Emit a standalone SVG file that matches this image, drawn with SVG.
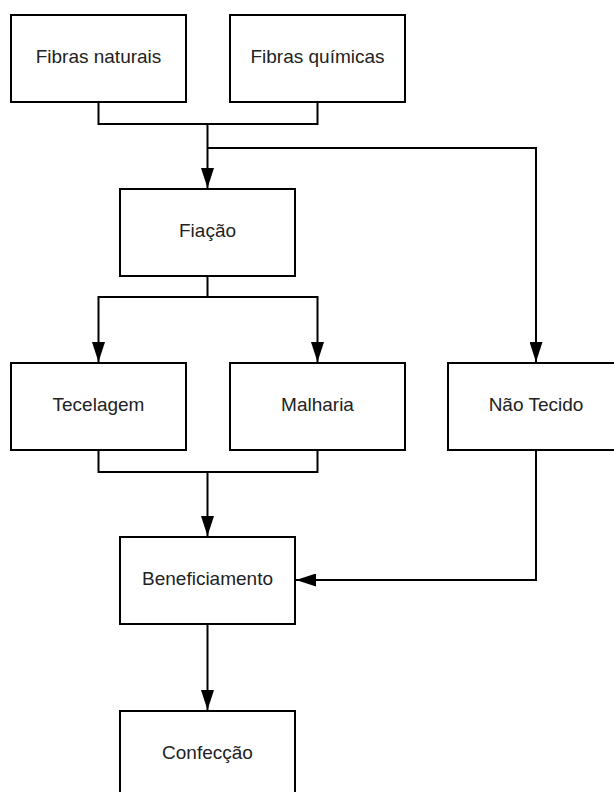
<svg xmlns="http://www.w3.org/2000/svg" width="614" height="792" viewBox="0 0 614 792">
  <style>
    .box { fill: #ffffff; stroke: #000000; stroke-width: 2; }
    .lbl { font-family: "Liberation Sans", Arial, sans-serif; font-size: 19px; fill: #222222; text-anchor: middle; }
    .con { fill: none; stroke: #000000; stroke-width: 2; }
  </style>
  <defs>
    <marker id="arr" viewBox="0 0 20 13" markerWidth="20" markerHeight="13" refX="20" refY="6.5" orient="auto" markerUnits="userSpaceOnUse">
      <path d="M0,0 L20,6.5 L0,13 z" fill="#000000"/>
    </marker>
  </defs>
  <rect x="0" y="0" width="614" height="792" fill="#ffffff"/>

  <g id="connectors">
    <path class="con" d="M98.5,102 V124 H317.5 V102"/>
    <path class="con" d="M207.5,124 V188" marker-end="url(#arr)"/>
    <path class="con" d="M207.5,148 H536 V362" marker-end="url(#arr)"/>
    <path class="con" d="M207.5,276 V297 H98.5 V362" marker-end="url(#arr)"/>
    <path class="con" d="M207.5,297 H317.5 V362" marker-end="url(#arr)"/>
    <path class="con" d="M98.5,450 V472 H317.5 V450"/>
    <path class="con" d="M207.5,472 V536" marker-end="url(#arr)"/>
    <path class="con" d="M536,450 V580 H296" marker-end="url(#arr)"/>
    <path class="con" d="M207.5,624 V710" marker-end="url(#arr)"/>
  </g>

  <g id="fibras-naturais">
    <rect class="box" x="11" y="15" width="175" height="87"/>
    <text class="lbl" x="98.5" y="62.5">Fibras naturais</text>
  </g>
  <g id="fibras-quimicas">
    <rect class="box" x="230" y="15" width="175" height="87"/>
    <text class="lbl" x="317.5" y="62.5">Fibras químicas</text>
  </g>
  <g id="fiacao">
    <rect class="box" x="120" y="189" width="175" height="87"/>
    <text class="lbl" x="207.5" y="236.5">Fiação</text>
  </g>
  <g id="tecelagem">
    <rect class="box" x="11" y="363" width="175" height="87"/>
    <text class="lbl" x="98.5" y="410.5">Tecelagem</text>
  </g>
  <g id="malharia">
    <rect class="box" x="230" y="363" width="175" height="87"/>
    <text class="lbl" x="317.5" y="410.5">Malharia</text>
  </g>
  <g id="nao-tecido">
    <rect class="box" x="448" y="363" width="176" height="87"/>
    <text class="lbl" x="536" y="410.5">Não Tecido</text>
  </g>
  <g id="beneficiamento">
    <rect class="box" x="120" y="537" width="175" height="87"/>
    <text class="lbl" x="207.5" y="584.5">Beneficiamento</text>
  </g>
  <g id="confeccao">
    <rect class="box" x="120" y="711" width="175" height="87"/>
    <text class="lbl" x="207.5" y="758.5">Confecção</text>
  </g>
</svg>
